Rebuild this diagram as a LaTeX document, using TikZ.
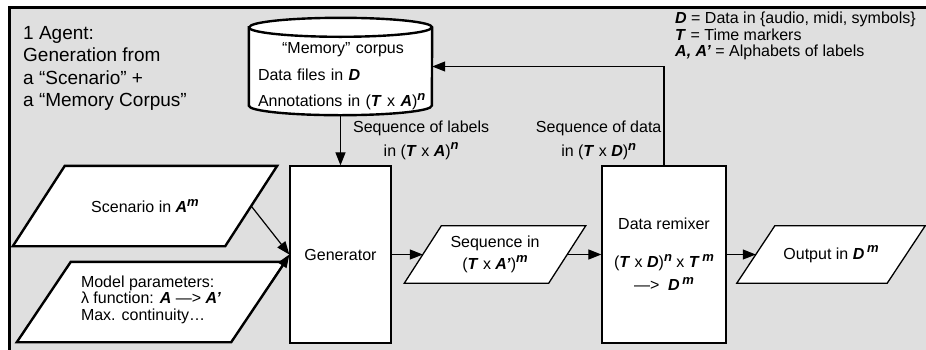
\documentclass[tikz,border=0pt]{standalone}
\usepackage{fontspec}
\setmainfont{Liberation Sans}
\usetikzlibrary{arrows.meta,positioning,backgrounds}
\newcommand{\bi}[1]{\textbf{\textit{#1}}}
\newcommand{\sups}[1]{\raisebox{0.42em}{\fontsize{13}{13}\selectfont\bi{#1}}}
% parallelogram round a node: node name, slant, line width
\newcommand{\slantbox}[3]{%
  \draw[line width=#3, fill=white] ([xshift=#2/2]#1.north west) -- ([xshift=#2/2]#1.north east)
    -- ([xshift=-#2/2]#1.south east) -- ([xshift=-#2/2]#1.south west) -- cycle;}
\begin{document}
\begin{tikzpicture}
  [x=1pt, y=-1pt,
   txt/.style = {font=\fontsize{16}{16.5}\selectfont, inner sep=0pt},
   block/.style = {draw, fill=white, line width=1.3pt, txt, align=center},
   iobox/.style = {txt, align=center},
   arr/.style = {line width=1.2pt, -{Triangle[length=13pt, width=10pt]}}]
  \useasboundingbox (0,0) rectangle (926,349);
  \begin{scope}[on background layer]
    \clip (0,0) rectangle (926,349);
    \draw[line width=3pt, fill=gray!25] (9,7) rectangle (980,400);
  \end{scope}

  % memory corpus
  \node[minimum width=183pt, minimum height=97pt, inner sep=0pt] (corpus) at (340.5,66.5) {};
  \draw[line width=2.4pt, fill=white]
    ([yshift=-9.5pt]corpus.north west) -- ([yshift=9.5pt]corpus.south west)
    arc[start angle=180, end angle=360, x radius=91.5pt, y radius=9.5pt]
    -- ([yshift=-9.5pt]corpus.north east)
    arc[start angle=0, end angle=180, x radius=91.5pt, y radius=9.5pt] -- cycle;
  \draw[line width=2.4pt] ([yshift=-9.5pt]corpus.north west)
    arc[start angle=180, end angle=360, x radius=91.5pt, y radius=9.5pt];
  \node[txt, font=\fontsize{16}{26.5}\selectfont, text width=170pt, align=left] (corpustext)
    at ([xshift=2.5pt, yshift=-10pt]corpus.center)
    {\makebox[170pt]{“Memory” corpus}\\Data files in \bi{D}\\Annotations in (\bi{T} x \bi{A})\sups{n}};

  \node[anchor=west, font=\fontsize{19}{22.5}\selectfont, align=left, inner sep=0pt] (title)
    at (23,68.5) {1 Agent:\\Generation from\\a “Scenario” +\\a “Memory Corpus”};
  \node[anchor=west, txt, align=left] (legend) at (675,36)
    {\bi{D} = Data in \{audio, midi, symbols\}\\\bi{T} = Time markers\\\bi{A, A’} = Alphabets of labels};

  % inputs
  \node[iobox, minimum width=212pt, minimum height=80pt] (scenario)
    at (145,206) {Scenario in \bi{A}\sups{m}};
  \node[iobox, minimum width=214pt, minimum height=80pt, align=left] (model)
    at (151,302) {Model parameters:\\λ function: \bi{A} —> \bi{A’}\\Max. continuity…\\[-8pt]};

  % processing chain
  \node[block, minimum width=101pt, minimum height=177pt] (generator) at (340.5,254.5) {Generator};
  \node[iobox, minimum width=144pt, minimum height=57pt, font=\fontsize{16}{22}\selectfont] (sequence)
    at (495,254.5) {Sequence in\\(\bi{T} x \bi{A’})\sups{m}};
  \node[block, minimum width=124pt, minimum height=177pt, font=\fontsize{16}{23}\selectfont] (remixer)
    at (664,254.5) {Data remixer\\[15pt](\bi{T} x \bi{D})\sups{n} x \bi{T}\,\sups{m}\\—>\ \ \bi{D}\,\sups{m}};
  \node[iobox, minimum width=150pt, minimum height=57pt] (output)
    at (831,254.5) {Output in \bi{D}\,\sups{m}};

  \begin{pgfonlayer}{background}
    \slantbox{scenario}{52pt}{2.4pt}
    \slantbox{model}{54pt}{2.4pt}
    \slantbox{sequence}{37pt}{1.3pt}
    \slantbox{output}{38pt}{1.3pt}
  \end{pgfonlayer}

  \draw[arr] (scenario.east) -- (generator.west);
  \draw[arr] (model.east) -- (generator.west);
  \draw[arr] (corpus) -- node[right=12pt, txt, font=\fontsize{16}{24}\selectfont, align=center] (labelseq)
    {Sequence of labels\\in (\bi{T} x \bi{A})\sups{n}} (generator);
  \draw[arr] (generator) -- (sequence);
  \draw[arr] (sequence) -- (remixer);
  \draw[arr] (remixer) -- (output);
  \draw[arr] (remixer.north) |- node[pos=0.125, left=2pt, txt, font=\fontsize{16}{24}\selectfont, align=center] (dataseq)
    {Sequence of data\\in (\bi{T} x \bi{D})\sups{n}} (corpus.east);
\end{tikzpicture}
\end{document}
